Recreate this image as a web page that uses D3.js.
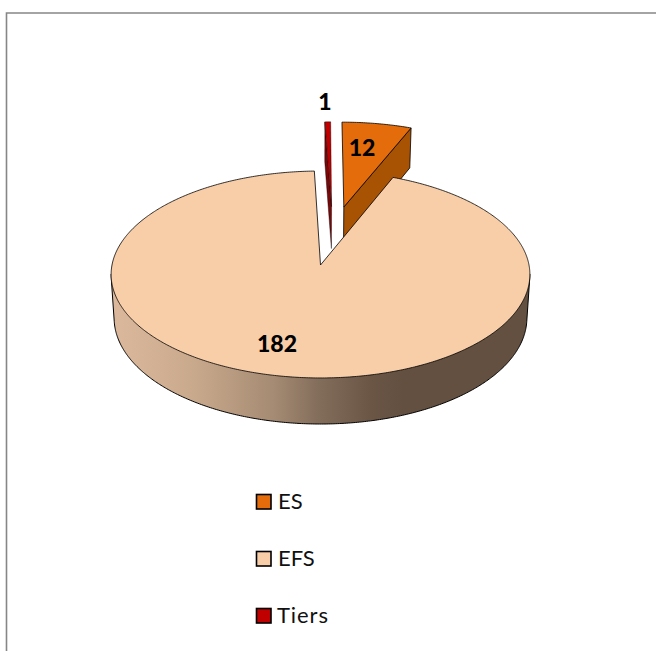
<!DOCTYPE html>
<html><head><meta charset="utf-8">
<script src="https://cdn.jsdelivr.net/npm/d3@7/dist/d3.min.js"></script>
<style>html,body{margin:0;padding:0;background:#fff;overflow:hidden}svg{display:block}text{font-family:Lato,"Open Sans",sans-serif}</style>
</head><body><svg id="c" width="656" height="651"></svg>
<script>
const categories = ["ES", "EFS", "Tiers"];
const values = [12, 182, 1];
const topColors = ["#e46c0a", "#f8cea9", "#c00000"];
const wallColors = ["#a85204", "#7d6552", "#7a0808"];

const svg = d3.select("#c");
const pie = d3.pie().sort(null).value(d => d)(values);
const color = d3.scaleOrdinal(categories, topColors);
const wall = d3.scaleOrdinal(categories, wallColors);

// perspective projection of a flat disc
const cx = 320.5, cy = 265, k = 0.0917;
const top_ = {rx: 208.5, ry: 102.6, dy: 0};
const bot = {rx: 205.5, ry: 105.1, dy: 43.3};
const explode = {ES: [0.118, 0.596], EFS: [0, 0], Tiers: [0.056, 0.6]};
function pt(a, r, name, lvl) {
  const [ox, oz] = explode[name];
  const X = ox + r * Math.sin(a), Z = oz + r * Math.cos(a), w = 1 + k * Z;
  return [cx + lvl.rx * X / w, cy + lvl.dy - lvl.ry * Z / w];
}
const line = d3.line();
function arcPts(a0, a1, name, lvl) {
  const n = Math.max(2, Math.ceil(Math.abs(a1 - a0) / 0.01));
  return d3.range(n + 1).map(i => pt(a0 + (a1 - a0) * i / n, 1, name, lvl));
}

const defs = svg.append("defs");
const grad = defs.append("linearGradient").attr("id", "rim")
  .attr("gradientUnits", "userSpaceOnUse").attr("x1", 110).attr("x2", 530).attr("y1", 0).attr("y2", 0);
[[0, "#dcb99c"], [0.2, "#c9a98c"], [0.39, "#a58b73"], [0.5, "#826c5a"], [0.62, "#6b5646"], [0.7, "#635040"], [1, "#635040"]]
  .forEach(([o, c]) => grad.append("stop").attr("offset", o).attr("stop-color", c));

// chart frame
svg.append("path").attr("d", "M6.5,651V13H656").attr("fill", "none").attr("stroke", "#868686").attr("stroke-width", 1.6);

function styled(sel, fill, sw) {
  return sel.attr("fill", fill).attr("stroke", "#000").attr("stroke-width", sw || 0.8).attr("stroke-linejoin", "round");
}

// exploded wedges first; the large slice covers their lower part
const es = pie[0], efs = pie[1], ti = pie[2];

// ES
styled(svg.append("path").attr("d", line([
  pt(es.endAngle, 0, "ES", top_), pt(es.endAngle, 1, "ES", top_),
  pt(es.endAngle, 1, "ES", bot), pt(es.endAngle, 0, "ES", bot)]) + "Z"), wall("ES"));
styled(svg.append("path").attr("d", line([pt(0, 0, "ES", top_), ...arcPts(es.startAngle, es.endAngle, "ES", top_)]) + "Z"), color("ES"));

// Tiers
styled(svg.append("path").attr("d", line([
  pt(ti.startAngle, 0, "Tiers", top_), pt(ti.startAngle, 1, "Tiers", top_),
  pt(ti.startAngle, 1, "Tiers", bot), pt(ti.startAngle, 0, "Tiers", bot)]) + "Z"), wall("Tiers"), 0.4);
styled(svg.append("path").attr("d", line([pt(0, 0, "Tiers", top_), ...arcPts(ti.startAngle, ti.endAngle, "Tiers", top_)]) + "Z"), color("Tiers"), 0.4);

// EFS wall: hull of front half of both rims
const a0 = 95 * Math.PI / 180, a1 = 265 * Math.PI / 180;
const hull = d3.polygonHull([...arcPts(a0, a1, "EFS", top_), ...arcPts(a0, a1, "EFS", bot)]);
styled(svg.append("path").attr("d", line(hull) + "Z"), "url(#rim)", 1);
// EFS top
styled(svg.append("path").attr("d", line([pt(0, 0, "EFS", top_), ...arcPts(efs.startAngle, efs.endAngle, "EFS", top_)]) + "Z"), color("EFS"));

// data labels
const labelPos = [[362, 156], [277, 352], [325, 110]];
svg.selectAll("text.lab").data(values).join("text").attr("class", "lab")
  .attr("x", (d, i) => labelPos[i][0]).attr("y", (d, i) => labelPos[i][1])
  .attr("text-anchor", "middle").attr("font-weight", 900).attr("font-size", 23).attr("fill", "#000").text(d => d);

// legend
const legendY = d3.scalePoint(categories, [501.5, 615.5]);
const lg = svg.selectAll("g.lg").data(categories).join("g").attr("class", "lg")
  .attr("transform", d => `translate(0,${legendY(d)})`);
lg.append("rect").attr("x", 256.5).attr("y", -7).attr("width", 14.5).attr("height", 14.5)
  .attr("fill", d => color(d)).attr("stroke", "#000").attr("stroke-width", 1.6);
lg.append("text").attr("x", d => d === "Tiers" ? 277 : 278).attr("y", 7).attr("font-size", 22).attr("fill", "#111")
  .attr("textLength", d => d === "Tiers" ? 51 : null).text(d => d);
</script></body></html>
